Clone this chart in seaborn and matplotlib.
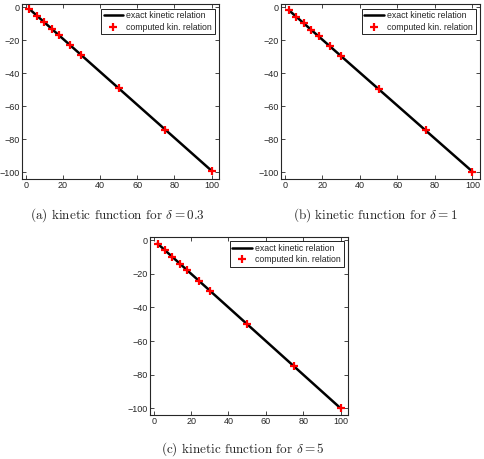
import numpy as np
import pandas as pd
import seaborn as sns
import matplotlib
matplotlib.use("Agg")
import matplotlib.pyplot as plt

sns.set_style("ticks", {"xtick.direction": "in", "ytick.direction": "in"})
plt.rcParams["font.family"] = ["Liberation Sans", "DejaVu Sans"]
plt.rcParams["mathtext.fontset"] = "cm"

# Points where the kinetic relation was computed.
x_vals = [2, 6, 10, 14, 18, 24, 30, 50, 75, 100]

# Computed values for each delta.
y_delta_03 = [-1, -5, -9, -13, -17, -23, -29, -49, -74, -99]
y_delta_1 = [-1.5, -5.5, -9.5, -13.5, -17.5, -23.5, -29.5, -49.5, -74.5, -99.5]
y_delta_5 = [-2, -6, -10, -14, -18, -24, -30, -50, -75, -100]

panels = [
    (y_delta_03, "(a) kinetic function for $\\delta = 0.3$"),
    (y_delta_1, "(b) kinetic function for $\\delta = 1$"),
    (y_delta_5, "(c) kinetic function for $\\delta = 5$"),
]

# Axes positions in figure fractions and caption positions.
axes_pos = [
    [0.0455, 0.610, 0.407, 0.381],
    [0.5806, 0.610, 0.411, 0.381],
    [0.310, 0.096, 0.409, 0.388],
]
caption_pos = [(0.242, 0.531), (0.775, 0.531), (0.502, 0.021)]

fig = plt.figure(figsize=(4.84, 4.59), dpi=100)

for (ys, caption), pos, cpos in zip(panels, axes_pos, caption_pos):
    ax = fig.add_axes(pos)
    df = pd.DataFrame({"x": x_vals, "y": ys})
    sns.lineplot(data=df, x="x", y="y", color="black", linewidth=1.8,
                 label="exact kinetic relation", ax=ax)
    ax.plot(df["x"], df["y"], linestyle="none", marker="+", color="red",
            markersize=6, markeredgewidth=1.6, label="computed kin. relation")
    ax.set_xlim(-2, 104)
    ax.set_ylim(-104, 2)
    ax.set_xticks([0, 20, 40, 60, 80, 100])
    ax.set_yticks([0, -20, -40, -60, -80, -100])
    ax.tick_params(labelsize=6.5, length=3, width=0.6, top=True, right=True, pad=1.5)
    ax.set_xlabel("")
    ax.set_ylabel("")
    for s in ax.spines.values():
        s.set_linewidth(0.8)
    leg = ax.legend(loc="upper right", fontsize=6.3, fancybox=False,
                    edgecolor="black", framealpha=1, borderaxespad=0.5,
                    handlelength=2.2, borderpad=0.3, labelspacing=0.3,
                    handletextpad=0.4)
    leg.get_frame().set_linewidth(0.6)
    fig.text(cpos[0], cpos[1], caption, ha="center", va="center",
             fontsize=9.5, family="cmr10")

fig.savefig("out.png", dpi=100)
